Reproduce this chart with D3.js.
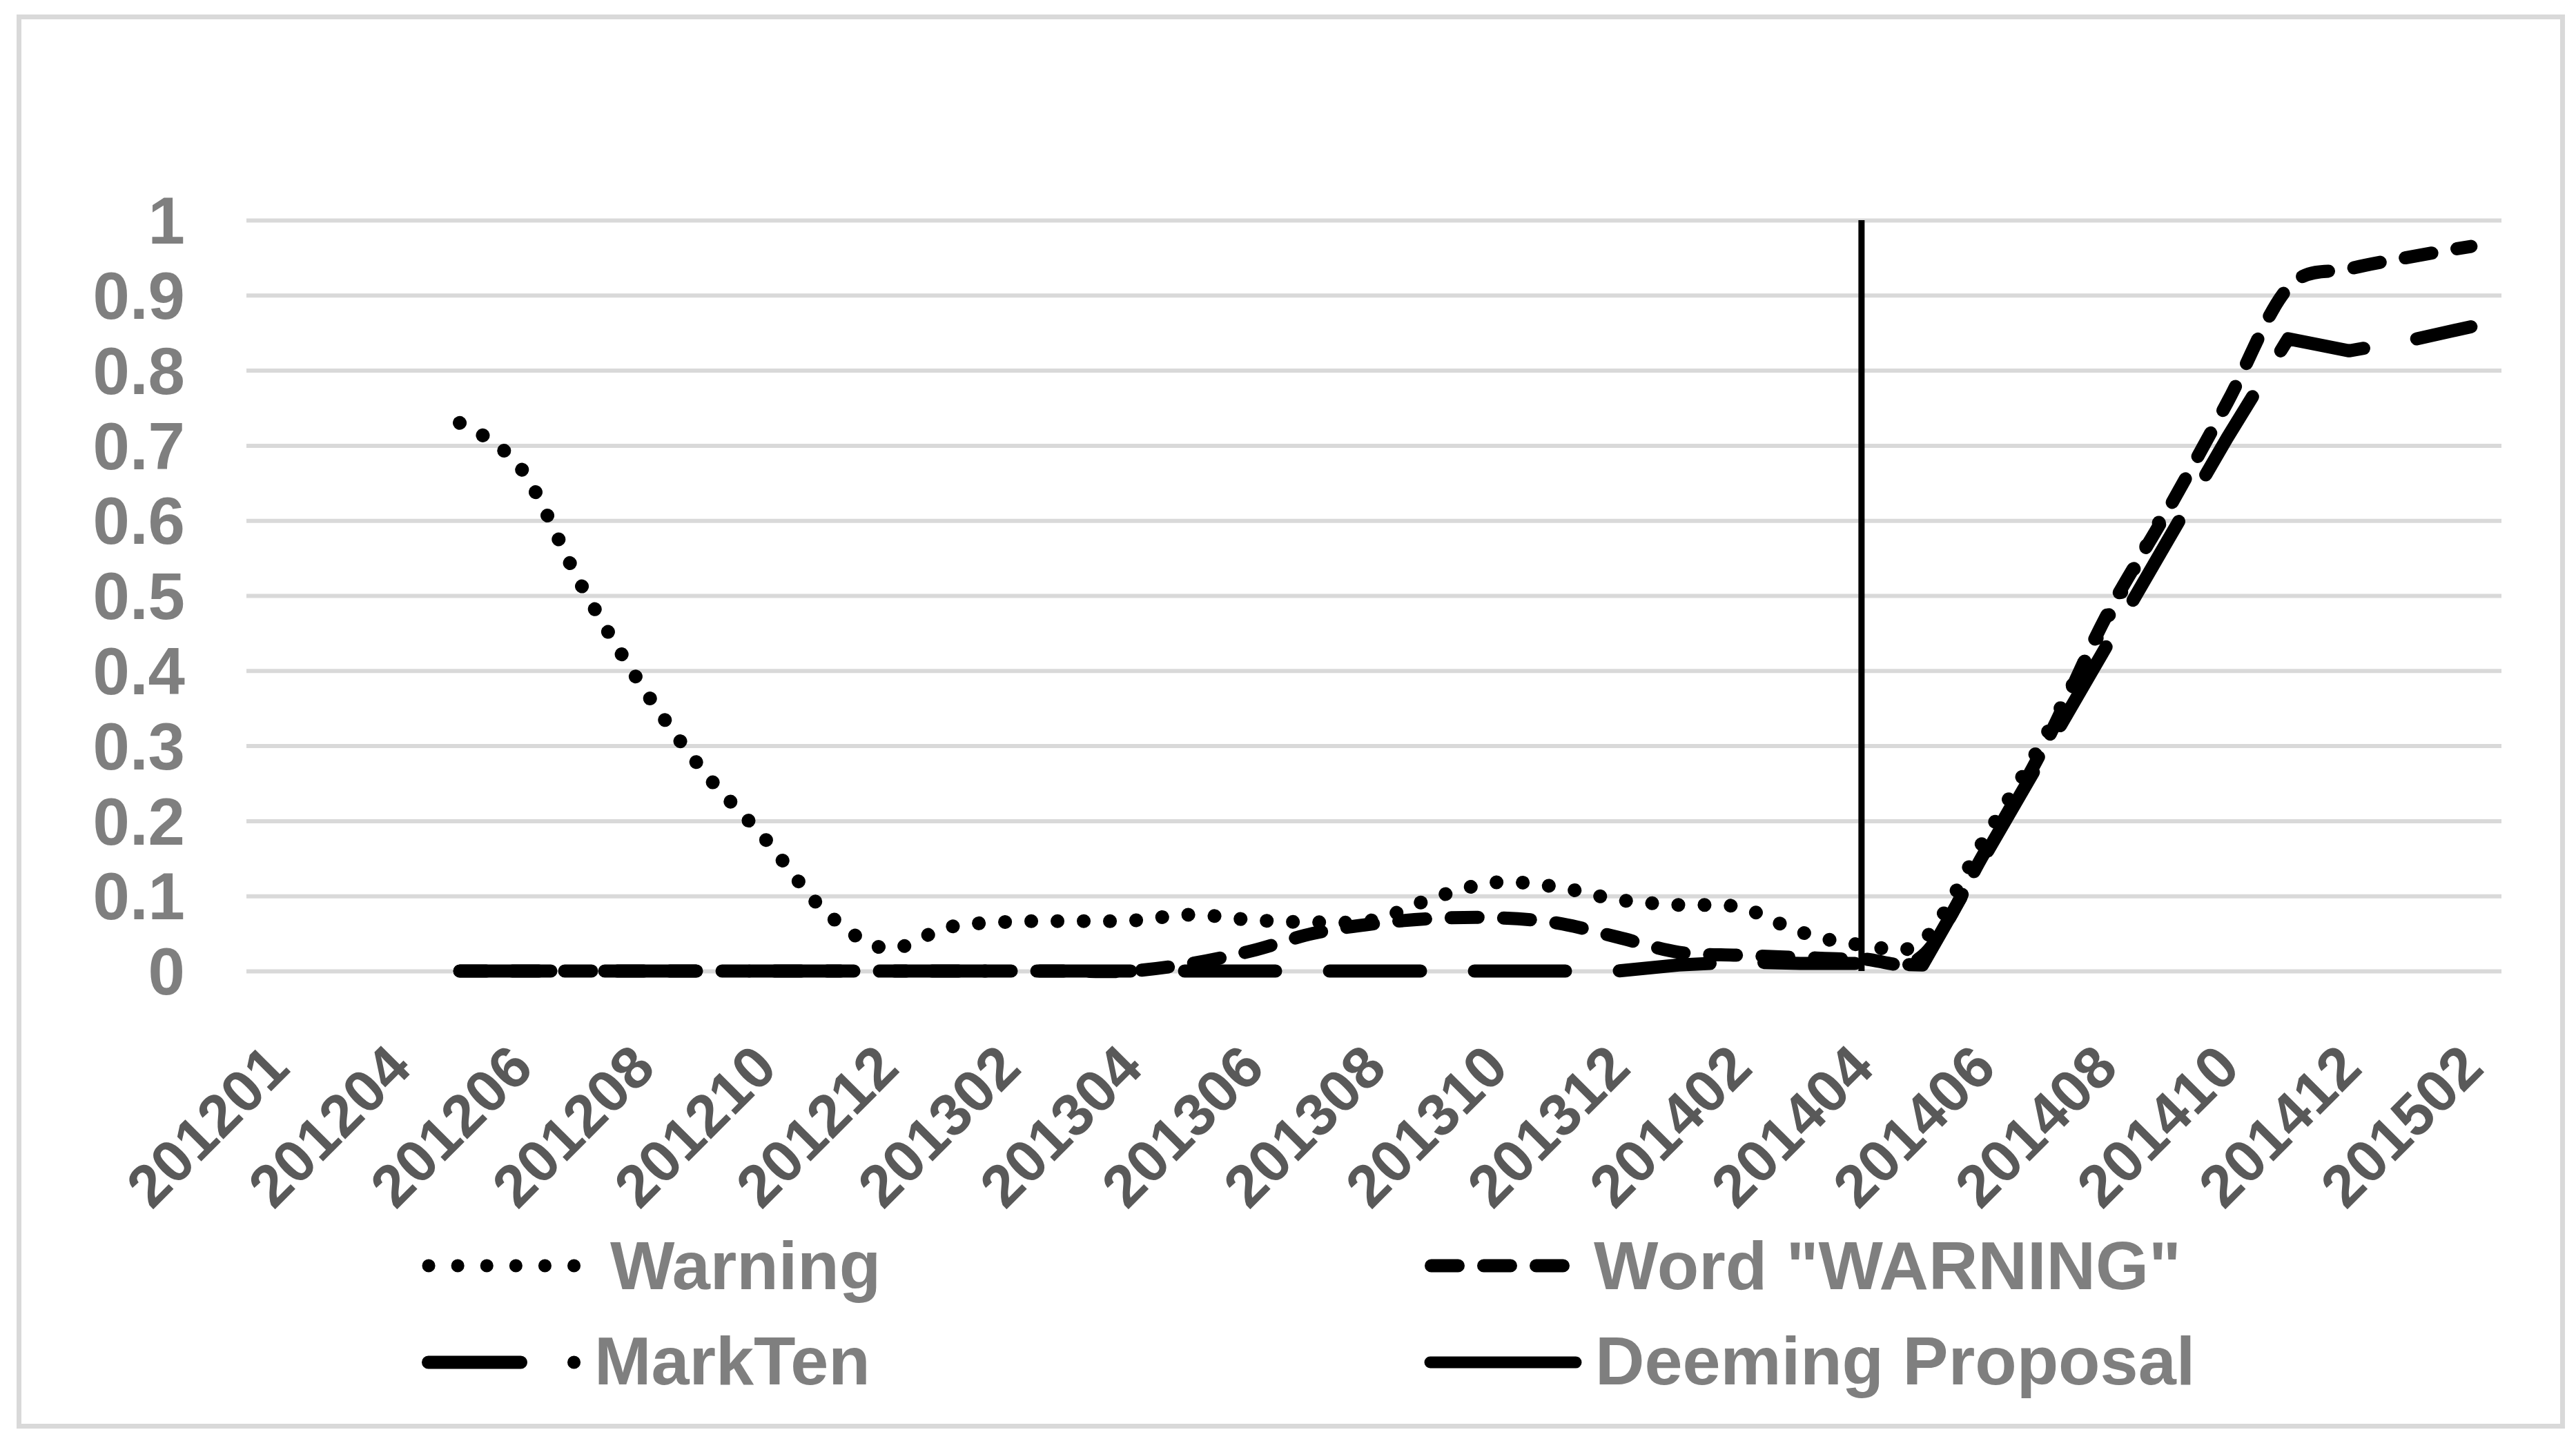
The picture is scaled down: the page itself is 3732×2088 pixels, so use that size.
<!DOCTYPE html>
<html><head><meta charset="utf-8">
<script src="https://cdn.jsdelivr.net/npm/d3@7"></script>
<style>html,body{margin:0;padding:0;background:#fff;} svg{display:block;}</style>
</head><body>
<svg id="chart" width="3732" height="2088"></svg>
<script>
// ---- data ----
const categories = ["201201","201202","201204","201205","201206","201207","201208","201209","201210","201211","201212",
  "201301","201302","201303","201304","201305","201306","201307","201308","201309","201310","201311","201312",
  "201401","201402","201403","201404","201405","201406","201407","201408","201409","201410","201411","201412",
  "201501","201502"];
const xTickLabels = ["201201","201204","201206","201208","201210","201212","201302","201304","201306","201308",
  "201310","201312","201402","201404","201406","201408","201410","201412","201502"];
const yTicks = [0,0.1,0.2,0.3,0.4,0.5,0.6,0.7,0.8,0.9,1];
const yTickLabels = ["0","0.1","0.2","0.3","0.4","0.5","0.6","0.7","0.8","0.9","1"];

const warning = [null,null,null,0.73,0.67,0.513,0.378,0.266,0.177,0.079,0.03,0.058,0.0655,0.0665,0.067,0.075,0.068,0.065,0.068,
  0.098,0.118,0.112,0.095,0.088,0.085,0.052,0.035,0.04,0.173,0.31,0.465,0.615,null,null,null,null,null];
const wordWarning = [null,null,null,0,0,0,0,0,0,0,0,0,0,0,0,0.01,0.027,0.05,0.063,0.07,0.071,0.064,0.045,0.025,0.021,0.018,
  0.016,0.02,0.155,0.30,0.47,0.61,0.757,0.91,0.935,0.951,0.965];
const markTen = [null,null,null,0,0,0,0,0,0,0,0,0,0,0,0,0,0,0,0,0,0,0,0,0.008,0.012,0.01,0.01,0.008,0.15,0.29,0.43,0.57,0.71,
  0.842,0.826,0.84,0.858];
const deemingCategories = ["201404"];
const deemingValues = [1];
const seriesNames = ["Warning", "Word \"WARNING\"", "MarkTen", "Deeming Proposal"];

// ---- layout ----
const svg = d3.select("#chart");
const plotLeft = 357, plotRight = 3624, plotTop = 319, plotBottom = 1407;
const font = "'Liberation Sans', Arial, sans-serif";

svg.append("rect").attr("x",27.5).attr("y",24.5).attr("width",3685).attr("height",2042)
  .attr("fill","#fff").attr("stroke","#d9d9d9").attr("stroke-width",7);

const x = d3.scalePoint().domain(categories).range([plotLeft, plotRight]).padding(0.5);
const y = d3.scaleLinear().domain([0,1]).range([plotBottom, plotTop]);

// gridlines
const grid = svg.append("g").attr("transform",`translate(${plotLeft},0)`)
  .call(d3.axisLeft(y).tickValues(yTicks).tickSize(-(plotRight-plotLeft)).tickFormat(""));
grid.select(".domain").remove();
grid.selectAll(".tick line").attr("stroke","#d9d9d9").attr("stroke-width",6);

// y axis labels
const yAxis = svg.append("g").attr("transform","translate(268,0)")
  .call(d3.axisLeft(y).tickValues(yTicks).tickSize(0).tickPadding(0).tickFormat((d,i)=>yTickLabels[i]));
yAxis.select(".domain").remove();
yAxis.selectAll("text").attr("font-family",font).attr("font-weight","bold").attr("font-size",96)
  .attr("fill","#7f7f7f").attr("x",0).attr("dy","0.35em").attr("text-anchor","end");

// x axis labels
const xAxis = svg.append("g").attr("transform","translate(0,1530)")
  .call(d3.axisBottom(x).tickValues(xTickLabels).tickSize(0));
xAxis.select(".domain").remove();
xAxis.selectAll("text").attr("font-family",font).attr("font-weight","bold").attr("font-size",86)
  .attr("fill","#595959").attr("x",0).attr("y",0).attr("dy","0.35em")
  .attr("text-anchor","end").attr("transform","rotate(-45)");

// series
const smooth = d3.curveCardinal.tension(0);
const styles = [
  {data: warning, dash: "0.1 37.9", width: 20, curve: smooth},
  {data: wordWarning, dash: "39 37", width: 19, curve: smooth},
  {data: markTen, dash: "132 78", width: 19, curve: d3.curveLinear}
];

styles.forEach(s => {
  const line = d3.line()
    .defined(d => d.v !== null)
    .x(d => x(d.c)).y(d => y(d.v))
    .curve(s.curve);
  const pts = categories.map((c,i)=>({c, v: s.data[i]}));
  svg.append("path").attr("d", line(pts)).attr("fill","none").attr("stroke","#000")
    .attr("stroke-width", s.width).attr("stroke-linecap","round").attr("stroke-linejoin","round")
    .attr("stroke-dasharray", s.dash);
});

// Deeming proposal vertical line
deemingCategories.forEach((c,i) => {
  svg.append("line").attr("x1",x(c)).attr("x2",x(c)).attr("y1",y(0)).attr("y2",y(deemingValues[i]))
    .attr("stroke","#000").attr("stroke-width",9);
});

// legend
const legend = [
  {name: seriesNames[0], x1: 621, x2: 832, cy: 1834, tx: 884, ty: 1868, dash: "0.1 42", w: 19},
  {name: seriesNames[1], x1: 2073.5, x2: 2264.5, cy: 1834, tx: 2309, ty: 1868, dash: "39 37", w: 19},
  {name: seriesNames[2], x1: 620.5, x2: 831.6, cy: 1974, tx: 861, ty: 2006, dash: "134 77", w: 19},
  {name: seriesNames[3], x1: 2072, x2: 2283, cy: 1974, tx: 2311, ty: 2006, dash: null, w: 17}
];
legend.forEach(l => {
  const ln = svg.append("line").attr("x1",l.x1).attr("x2",l.x2).attr("y1",l.cy).attr("y2",l.cy)
    .attr("stroke","#000").attr("stroke-width",l.w).attr("stroke-linecap","round");
  if (l.dash) ln.attr("stroke-dasharray", l.dash);
  svg.append("text").attr("x",l.tx).attr("y",l.ty).text(l.name)
    .attr("font-family",font).attr("font-weight","bold").attr("font-size",99).attr("fill","#7f7f7f");
});
</script>
</body></html>
